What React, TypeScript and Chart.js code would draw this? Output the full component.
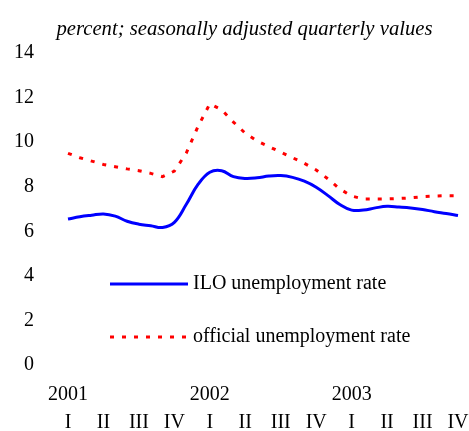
import React, { useEffect, useRef } from "react";
import { Chart, registerables } from "chart.js";

Chart.register(...registerables);

const months = [
  "2001-01", "2001-02", "2001-03", "2001-04", "2001-05", "2001-06",
  "2001-07", "2001-08", "2001-09", "2001-10", "2001-11", "2001-12",
  "2002-01", "2002-02", "2002-03", "2002-04", "2002-05", "2002-06",
  "2002-07", "2002-08", "2002-09", "2002-10", "2002-11", "2002-12",
  "2003-01", "2003-02", "2003-03", "2003-04", "2003-05", "2003-06",
  "2003-07", "2003-08", "2003-09", "2003-10",
];

const years = ["2001", "2002", "2003"];
const quarterNames = ["I", "II", "III", "IV"];

const iloRate = [
  6.55, 6.65, 6.72, 6.78, 6.68, 6.45, 6.32, 6.25, 6.17, 6.4, 7.2, 8.1,
  8.65, 8.72, 8.45, 8.37, 8.4, 8.48, 8.5, 8.42, 8.25, 7.98, 7.6, 7.2,
  6.95, 6.95, 7.05, 7.12, 7.09, 7.05, 6.98, 6.88, 6.8, 6.71,
];

const officialRate = [
  9.5, 9.3, 9.15, 9.0, 8.9, 8.8, 8.72, 8.6, 8.45, 8.7, 9.5, 10.7,
  11.72, 11.45, 10.9, 10.4, 10.05, 9.8, 9.55, 9.3, 9.05, 8.75, 8.35, 7.9,
  7.58, 7.45, 7.45, 7.45, 7.47, 7.5, 7.55, 7.58, 7.6, 7.6,
];

const yTicks = [0, 2, 4, 6, 8, 10, 12, 14];

const titleText = "percent; seasonally adjusted quarterly values";
const seriesNames = ["ILO unemployment rate", "official unemployment rate"];

const FONT = '"Liberation Serif", "Times New Roman", serif';

const overlayPlugin = {
  id: "overlayText",
  afterDraw(chart: any) {
    const ctx = chart.ctx;
    const ds = chart.data.datasets;
    const rows = [284, 337];
    ctx.save();
    // title
    ctx.fillStyle = "#000";
    ctx.font = `italic 20.7px ${FONT}`;
    ctx.textAlign = "center";
    ctx.textBaseline = "middle";
    ctx.fillText(titleText, 244.5, 30);
    // legend
    ds.forEach((d: any, i: number) => {
      const y = rows[i];
      ctx.beginPath();
      ctx.strokeStyle = d.borderColor;
      ctx.lineWidth = d.borderWidth;
      ctx.setLineDash(d.borderDash || []);
      ctx.moveTo(110, y);
      ctx.lineTo(188, y);
      ctx.stroke();
      ctx.setLineDash([]);
      ctx.fillStyle = "#000";
      ctx.font = `20px ${FONT}`;
      ctx.textBaseline = "middle";
      ctx.textAlign = "left";
      ctx.fillText(d.label, 193, y);
    });
    ctx.restore();
  },
};

export default function App() {
  const ref = useRef<HTMLCanvasElement | null>(null);
  useEffect(() => {
    if (!ref.current) return;
    const chart = new Chart(ref.current, {
      type: "line",
      data: {
        labels: months,
        datasets: [
          {
            label: seriesNames[0],
            data: iloRate,
            borderColor: "#0000ff",
            borderWidth: 3,
            pointRadius: 0,
            tension: 0.4,
            fill: false,
          },
          {
            label: seriesNames[1],
            data: officialRate,
            borderColor: "#ff0000",
            borderWidth: 3,
            borderDash: [4, 8],
            pointRadius: 0,
            tension: 0,
            fill: false,
          },
        ],
      },
      options: {
        animation: false,
        responsive: false,
        devicePixelRatio: 1,
        layout: { padding: { left: 0, right: 11, top: 53, bottom: 0 } },
        plugins: {
          legend: { display: false },
          tooltip: { enabled: false },
          title: { display: false },
        },
        scales: {
          x: {
            type: "category",
            offset: false,
            border: { display: false },
            grid: { display: false, drawTicks: false, tickLength: 0 },
            afterFit(scale: any) {
              scale.height = 66;
              scale.paddingLeft = 0;
              scale.paddingRight = 0;
            },
            ticks: {
              autoSkip: false,
              maxRotation: 0,
              minRotation: 0,
              padding: 16,
              color: "#000",
              font: { family: FONT, size: 20, lineHeight: 28 / 20 },
              callback: (_v: any, i: number) => {
                if (i % 3 !== 0) return "";
                const q = (i / 3) % 4;
                const yr = q === 0 ? years[Math.floor(i / 12)] : "";
                return [yr, quarterNames[q]];
              },
            },
          },
          y: {
            min: 0,
            max: 14,
            border: { display: false },
            grid: { display: false, drawTicks: false, tickLength: 0 },
            afterFit(scale: any) {
              scale.width = 68;
            },
            afterBuildTicks(scale: any) {
              scale.ticks = yTicks.map((v) => ({ value: v }));
            },
            ticks: {
              padding: 34,
              color: "#000",
              font: { family: FONT, size: 20 },
            },
          },
        },
      },
      plugins: [overlayPlugin],
    });
    return () => chart.destroy();
  }, []);
  return (
    <div style={{ position: "fixed", left: 0, top: 0, width: 469, height: 431, background: "#fff" }}>
      <canvas ref={ref} width={469} height={431} style={{ width: 469, height: 431, display: "block" }} />
    </div>
  );
}
